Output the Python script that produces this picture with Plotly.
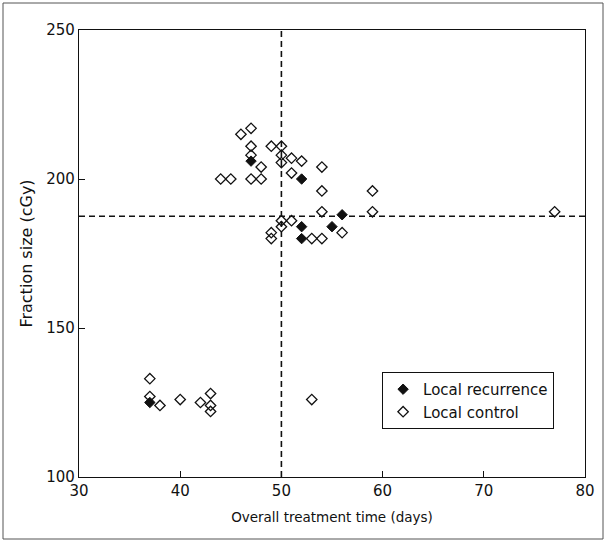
import plotly.graph_objects as go

# Local recurrence (filled diamonds)
rec_time = [47, 52, 52, 52, 55, 56, 37]
rec_frac = [206, 200, 184, 180, 184, 188, 125]

# Local control (open diamonds)
ctl_time = [47, 46, 47, 49, 50, 47, 50, 51, 50, 48, 52, 51, 54, 44, 45, 47, 48,
            54, 59, 54, 59, 77, 50, 51, 50, 49, 49, 53, 54, 56,
            37, 37, 38, 40, 42, 43, 43, 43, 53]
ctl_frac = [217, 215, 211, 211, 211, 208, 208, 207, 205.5, 204, 206, 202, 204, 200, 200, 200, 200,
            196, 196, 189, 189, 189, 186, 186, 184, 182, 180, 180, 180, 182,
            133, 127, 124, 126, 125, 128, 124, 122, 126]

# Reference (dividing) lines
ref_time = 50
ref_frac = 187.5

x_ticks = [30, 40, 50, 60, 70, 80]
y_ticks = [100, 150, 200, 250]

FONT = "DejaVu Sans"
INK = "#111111"

fig = go.Figure()
fig.add_trace(go.Scatter(
    x=rec_time, y=rec_frac, mode="markers", name="Local recurrence",
    marker=dict(symbol="diamond", size=8, color=INK, line=dict(color=INK, width=1)),
))
fig.add_trace(go.Scatter(
    x=ctl_time, y=ctl_frac, mode="markers", name="Local control",
    marker=dict(symbol="diamond-open", size=8, color=INK, line=dict(color=INK, width=1.3)),
))

# dashed reference lines
fig.add_shape(type="line", xref="x", yref="paper", x0=ref_time, x1=ref_time, y0=0, y1=1,
              line=dict(color=INK, width=1.6, dash="6px,4px"))
fig.add_shape(type="line", xref="paper", yref="y", x0=0, x1=1, y0=ref_frac, y1=ref_frac,
              line=dict(color=INK, width=1.6, dash="6px,4px"))

# outer frame of the figure
fig.add_shape(type="rect", xref="paper", yref="paper",
              x0=(3 - 79) / 506, x1=(603 - 79) / 506, y0=(477 - 539) / 447, y1=(477 - 3) / 447,
              line=dict(color="#555555", width=1), layer="below")

fig.update_layout(
    width=606, height=542,
    margin=dict(l=79, r=21, t=30, b=65),
    paper_bgcolor="white", plot_bgcolor="white",
    font=dict(family=FONT, size=14, color=INK),
    showlegend=True,
    legend=dict(x=0.599, y=0.235, xanchor="left", yanchor="top",
                bordercolor=INK, borderwidth=1, bgcolor="white",
                font=dict(size=15, family=FONT), itemwidth=30,
                tracegroupgap=2),
)
fig.update_xaxes(
    range=[30, 80], tickvals=x_ticks, ticks="inside", ticklen=6, tickcolor=INK,
    showline=True, linecolor=INK, linewidth=1.2, mirror=True, showgrid=False, zeroline=False,
    tickfont=dict(size=15), title=dict(text="Overall treatment time (days)", font=dict(size=13.5), standoff=13),
)
fig.update_yaxes(
    range=[100, 250], tickvals=y_ticks, ticks="inside", ticklen=6, tickcolor=INK,
    showline=True, linecolor=INK, linewidth=1.2, mirror=True, showgrid=False, zeroline=False,
    tickfont=dict(size=15), title=dict(text="Fraction size (cGy)", font=dict(size=16), standoff=9),
)

fig.write_html("out.html", config={"displayModeBar": False},
               post_script="document.body.style.margin='0px';")
